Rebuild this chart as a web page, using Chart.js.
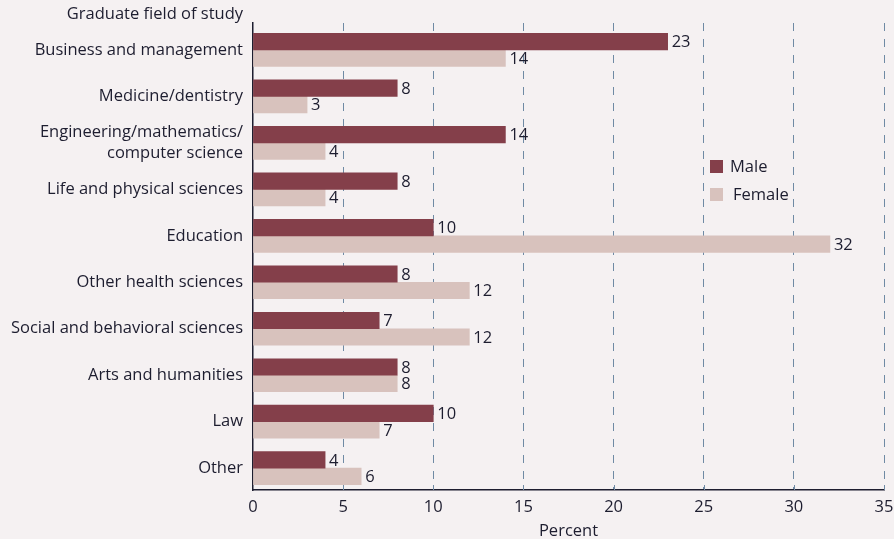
<!DOCTYPE html>
<html>
<head>
<meta charset="utf-8">
<script src="https://cdn.jsdelivr.net/npm/chart.js@4/dist/chart.umd.min.js"></script>
<style>
  html, body { margin: 0; padding: 0; background: #f5f1f2; }
  #wrap { width: 894px; height: 539px; position: relative; }
</style>
</head>
<body>
<div id="wrap"><canvas id="c" width="894" height="539"></canvas></div>
<script>
const categories = [
  'Business and management',
  'Medicine/dentistry',
  ['Engineering/mathematics/', 'computer science'],
  'Life and physical sciences',
  'Education',
  'Other health sciences',
  'Social and behavioral sciences',
  'Arts and humanities',
  'Law',
  'Other'
];
const maleValues   = [23, 8, 14, 8, 10, 8, 7, 8, 10, 4];
const femaleValues = [14, 3, 4, 4, 32, 12, 12, 8, 7, 6];
const xTicks = [0, 5, 10, 15, 20, 25, 30, 35];
const seriesNames = ['Male', 'Female'];
const yTitle = 'Graduate field of study';
const xTitle = 'Percent';

const TEXT = '#1d1d2f';
const MALE = '#843f4a';
const FEMALE = '#d8c2bd';
const GRID = '#6f8aa4';
const FONT = '"Open Sans", sans-serif';
const FS = 16.5;

const bgPlugin = {
  id: 'bg',
  beforeDraw(chart) {
    const ctx = chart.ctx;
    ctx.save();
    ctx.fillStyle = '#f5f1f2';
    ctx.fillRect(0, 0, chart.width, chart.height);
    ctx.restore();
  }
};

const labelsPlugin = {
  id: 'valueLabels',
  afterDatasetsDraw(chart) {
    const ctx = chart.ctx;
    ctx.save();
    ctx.font = FS + 'px ' + FONT;
    ctx.fillStyle = TEXT;
    ctx.textAlign = 'left';
    ctx.textBaseline = 'middle';
    chart.data.datasets.forEach((ds, di) => {
      const meta = chart.getDatasetMeta(di);
      meta.data.forEach((bar, i) => {
        ctx.fillText(String(ds.data[i]), bar.x + 4, bar.y + 1);
      });
    });
    ctx.restore();
  }
};

const extrasPlugin = {
  id: 'extras',
  afterDraw(chart) {
    const ctx = chart.ctx;
    const xs = chart.scales.x, ys = chart.scales.y;
    ctx.save();
    ctx.strokeStyle = GRID;
    ctx.lineWidth = 1;
    xTicks.forEach(v => {
      if (v === 0) return;
      const px = Math.round(xs.getPixelForValue(v)) + 0.5;
      ctx.beginPath();
      ctx.moveTo(px, xs.top);
      ctx.lineTo(px, xs.top - 5);
      ctx.stroke();
    });
    ctx.font = FS + 'px ' + FONT;
    ctx.fillStyle = TEXT;
    ctx.textAlign = 'right';
    ctx.textBaseline = 'middle';
    ctx.fillText(yTitle, ys.right - 10, 14);
    const lx = 710, ly = [166, 194], tx = [730, 733];
    chart.data.datasets.forEach((ds, i) => {
      ctx.fillStyle = ds.backgroundColor;
      ctx.fillRect(lx, ly[i] - 6, 13, 13);
      ctx.fillStyle = TEXT;
      ctx.textAlign = 'left';
      ctx.fillText(ds.label, tx[i], ly[i] + 1);
    });
    ctx.restore();
  }
};

new Chart(document.getElementById('c'), {
  type: 'bar',
  data: {
    labels: categories.map((_, i) => i),
    datasets: [
      { label: seriesNames[0], data: maleValues, backgroundColor: MALE, barThickness: 16.5 },
      { label: seriesNames[1], data: femaleValues, backgroundColor: FEMALE, barThickness: 16.5 }
    ]
  },
  options: {
    indexAxis: 'y',
    responsive: false,
    animation: false,
    layout: { padding: { top: 23, right: 10, bottom: 0, left: 0 } },
    plugins: { legend: { display: false }, tooltip: { enabled: false } },
    scales: {
      x: {
        type: 'linear',
        position: 'bottom',
        min: 0, max: 35,
        offset: false,
        afterBuildTicks(scale) { scale.ticks = xTicks.map(v => ({ value: v })); },
        afterFit(scale) { scale.height = 49; scale.paddingLeft = 0; scale.paddingRight = 0; },
        grid: {
          drawTicks: false,
          offset: false,
          lineWidth: 1,
          color: ctx => (ctx.tick && ctx.tick.value === 0) ? 'rgba(0,0,0,0)' : GRID
        },
        border: { display: true, color: TEXT, width: 1.5, dash: [8, 8] },
        ticks: { color: TEXT, font: { family: FONT, size: FS }, padding: 7 },
        title: { display: true, text: xTitle, color: TEXT, font: { family: FONT, size: FS }, padding: { top: 0, bottom: -2 } }
      },
      y: {
        type: 'linear',
        position: 'left',
        reverse: true,
        offset: false,
        min: -0.58, max: 9.47,
        afterBuildTicks(scale) { scale.ticks = categories.map((_, i) => ({ value: i })); },
        afterFit(scale) { scale.width = 253; },
        grid: { display: false, drawTicks: false, offset: false },
        border: { display: true, color: TEXT, width: 1.5 },
        ticks: {
          color: TEXT,
          font: { family: FONT, size: FS, lineHeight: 1.25 },
          padding: 10,
          autoSkip: false,
          callback: v => categories[v]
        }
      }
    }
  },
  plugins: [bgPlugin, labelsPlugin, extrasPlugin]
});
</script>
</body>
</html>
